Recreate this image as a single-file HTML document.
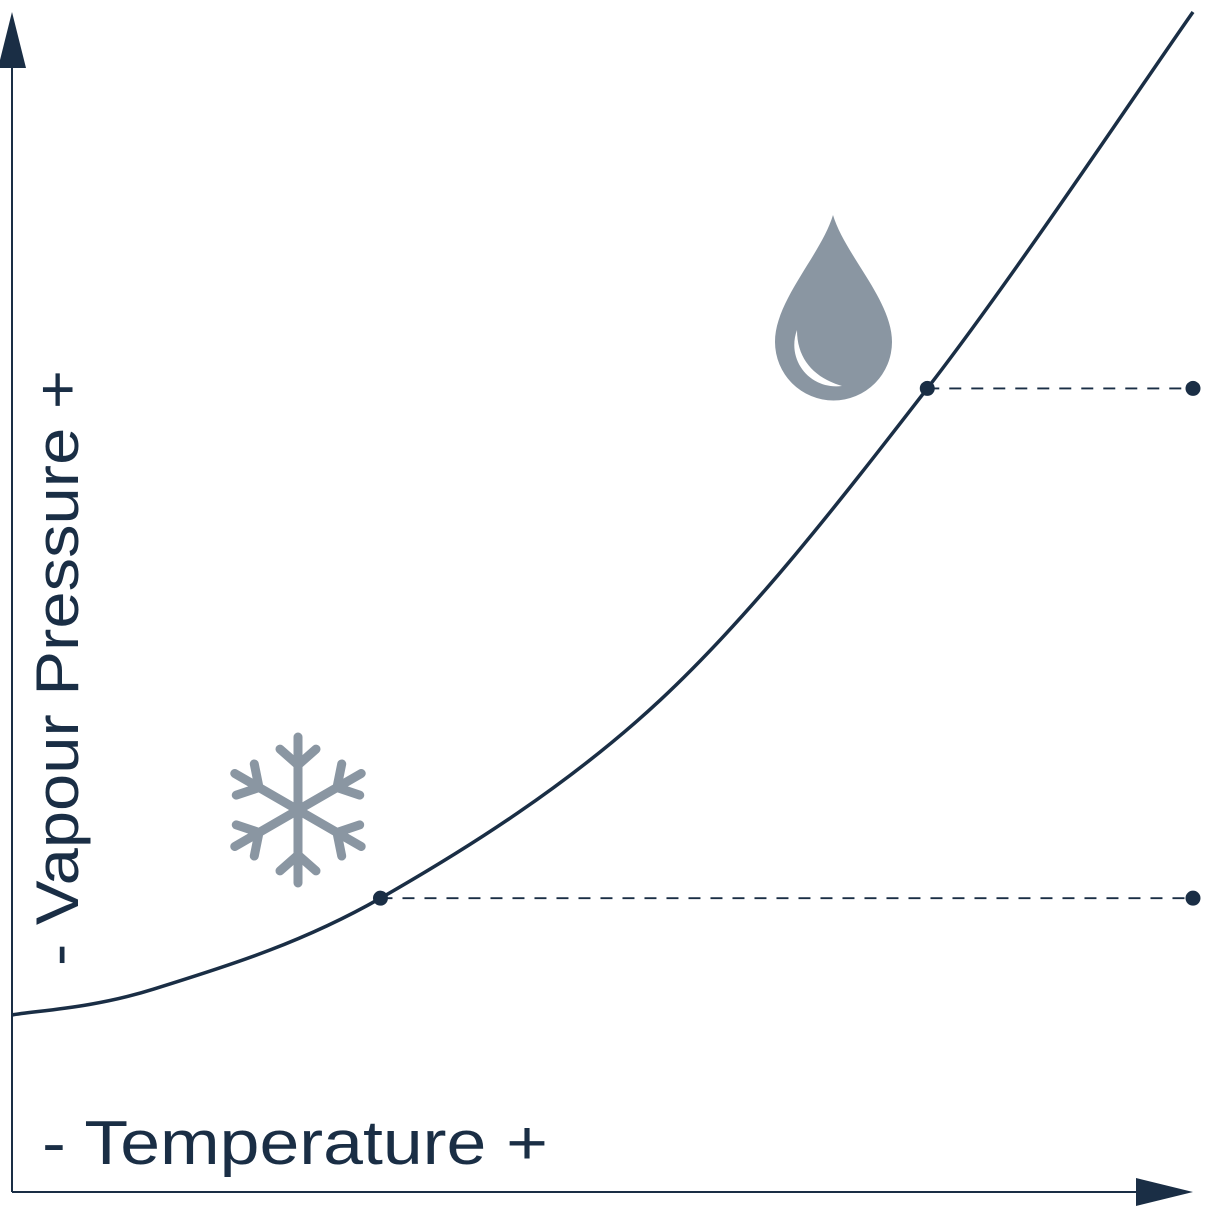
<!DOCTYPE html>
<html><head><meta charset="utf-8"><style>
html,body{margin:0;padding:0;background:#fff;}
svg{display:block;}
text{font-family:"Liberation Sans",sans-serif;fill:#1a2e45;}
</style></head><body>
<svg id="chart" width="1205" height="1206" viewBox="0 0 1205 1206">
<g id="axes">
<line x1="12" y1="60" x2="12" y2="1192" stroke="#1a2e45" stroke-width="2"/>
<polygon points="12,12 26,68 -2,68" fill="#1a2e45"/>
<line x1="12" y1="1192" x2="1140" y2="1192" stroke="#1a2e45" stroke-width="2"/>
<polygon points="1193,1192 1136,1178 1136,1206" fill="#1a2e45"/>
</g>
<text x="42" y="1164" font-size="62" textLength="506" lengthAdjust="spacingAndGlyphs">- Temperature +</text>
<text transform="translate(78,966) rotate(-90)" font-size="60" textLength="596" lengthAdjust="spacingAndGlyphs">- Vapour Pressure +</text>
<g id="snowflake" stroke="#8a96a2" stroke-width="9" stroke-linecap="round" fill="none"></g>
<g>
<path d="M833,215 C845,255 892,300 892,342 A58,58 0 0 1 775,342 C775,300 821,255 833,215 Z" fill="#8a96a2"/>
<path d="M797,330 C786,360 810,390 842,386 C815,378 797,360 797,330 Z" fill="#fff"/>
</g>
<g id="marks"></g>
</svg>
<script>
const temps = [0, 12, 31.2, 54.9, 77.5, 100];
const pressures = [15, 17.2, 24.9, 41.7, 68.1, 100];
const markerTemps = [31.2, 77.5];
const markerPressures = [24.9, 68.1];
const dashEndTemp = 100;

const X0=12, X1=1193, Y0=1192, Y1=12;
const xs = v => X0 + (X1-X0)*v/100;
const ys = v => Y0 - (Y0-Y1)*v/100;
const NS='http://www.w3.org/2000/svg';
const marks=document.getElementById('marks');

const pts=temps.map((t,i)=>[xs(t),ys(pressures[i])]);
let d='M'+pts[0][0]+','+pts[0][1];
for(let i=0;i<pts.length-1;i++){
  const p0=pts[Math.max(0,i-1)],p1=pts[i],p2=pts[i+1],p3=pts[Math.min(pts.length-1,i+2)];
  const c1=[p1[0]+(p2[0]-p0[0])/6,p1[1]+(p2[1]-p0[1])/6];
  const c2=[p2[0]-(p3[0]-p1[0])/6,p2[1]-(p3[1]-p1[1])/6];
  d+=` C${c1[0]},${c1[1]} ${c2[0]},${c2[1]} ${p2[0]},${p2[1]}`;
}
const curve=document.createElementNS(NS,'path');
curve.setAttribute('d',d);curve.setAttribute('fill','none');
curve.setAttribute('stroke','#1a2e45');curve.setAttribute('stroke-width','3.5');


marks.appendChild(curve);

markerTemps.forEach((t,i)=>{
  const y=ys(markerPressures[i]);
  const ln=document.createElementNS(NS,'line');
  ln.setAttribute('x1',xs(t));ln.setAttribute('x2',xs(dashEndTemp));
  ln.setAttribute('y1',y);ln.setAttribute('y2',y);
  ln.setAttribute('stroke','#1a2e45');ln.setAttribute('stroke-width','1.8');
  ln.setAttribute('stroke-dasharray','12 10');
  
  
  marks.appendChild(ln);
  [t,dashEndTemp].forEach(tt=>{
    const c=document.createElementNS(NS,'circle');
    c.setAttribute('cx',xs(tt));c.setAttribute('cy',y);c.setAttribute('r','7.5');
    c.setAttribute('fill','#1a2e45');
    
    
    marks.appendChild(c);
  });
});

const sf=document.getElementById('snowflake');
const cx=298,cy=810,L=73;
for(let k=0;k<6;k++){
  const a=(-90+60*k)*Math.PI/180;
  const ex=cx+L*Math.cos(a),ey=cy+L*Math.sin(a);
  let s=`M${cx},${cy} L${ex},${ey}`;
  const bx=cx+(L-28)*Math.cos(a),by=cy+(L-28)*Math.sin(a);
  [-1,1].forEach(sg=>{
    const b=a+sg*Math.PI*0.27;
    s+=` M${bx},${by} L${bx+24*Math.cos(b)},${by+24*Math.sin(b)}`;
  });
  const p=document.createElementNS(NS,'path');p.setAttribute('d',s);
  
  
  sf.appendChild(p);
}
</script>
</body></html>
